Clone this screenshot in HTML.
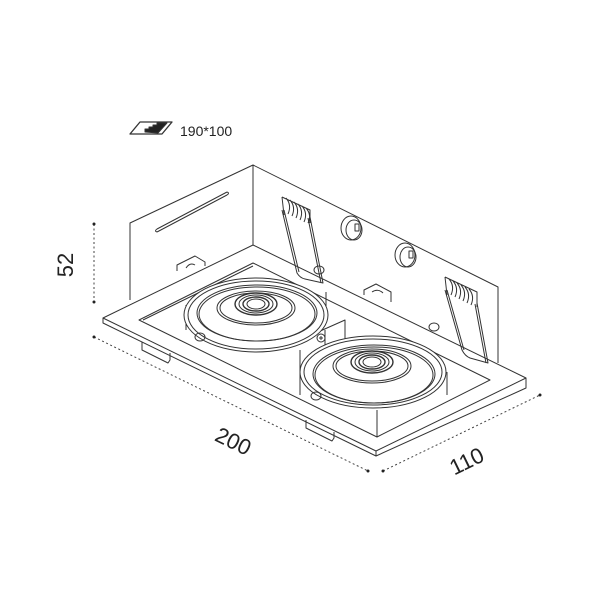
<!DOCTYPE html>
<html><head><meta charset="utf-8"><style>
html,body{margin:0;padding:0;background:#fff}
svg{display:block}
text{font-family:"Liberation Sans",sans-serif;fill:#222}
</style></head><body>
<svg width="600" height="600" viewBox="0 0 600 600" xmlns="http://www.w3.org/2000/svg">
<g fill="none" stroke="#333" stroke-width="1" stroke-linejoin="round">
<!-- icon -->
<path d="M130,134 L140,122 L172,122 L162,134 Z" stroke-width="1.3"/>
<path d="M145,132 L145,129 L149,129 L149,127 L153,127 L153,125 L157,125 L157,123 L167,123 L158,133 Z" fill="#222"/>
<!-- box -->
<path d="M130,300 L130,223 L253,165 L498,287 L498,363"/>
<path d="M253,165 L253,245"/>
<path d="M157,232 L227,195 M157,229 L227,192 M157,229 Q154,231 157,232 M227,192 Q230,193 227,195"/>
<!-- flange -->
<path d="M103,318 L253,245 L526,378 L526,388 L376,456 L103,323 Z" fill="#fff"/>
<path d="M103,318 L376,451 L526,378"/>
<path d="M376,451 L376,456"/>
<!-- inner opening -->
<path d="M139,320 L253,263 L490,380 L377,437 Z"/>
<path d="M143,320 L253,266 M377,437 L377,410"/>
<!-- tabs -->
<path d="M177,271 L177,265 L195,256 L205,262 L205,266"/>
<path d="M186,268 Q190,262 195,265"/>
<path d="M364,295 L364,290 L376,284 L391,292 L391,302"/>
<path d="M372,292 Q378,288 383,293"/>
<path d="M142,342 L142,350 L168,363 L170,360 L170,353"/>
<path d="M306,420 L306,428 L332,441 L334,438 L334,432"/>
<!-- screws -->
<ellipse cx="434" cy="327" rx="5" ry="4"/>
<ellipse cx="319" cy="270" rx="5" ry="4"/>
<!-- knockouts -->
<ellipse cx="351" cy="228" rx="10" ry="12"/>
<ellipse cx="354" cy="230" rx="8" ry="10"/>
<rect x="355" y="224" width="4" height="7"/>
<ellipse cx="405" cy="255" rx="10" ry="12"/>
<ellipse cx="408" cy="257" rx="8" ry="10"/>
<rect x="409" y="251" width="4" height="7"/>
<!-- springs -->
<g>
<path d="M282,210 L297,273 Q300,278 305,279 L323,283 L310,217"/>
<path d="M284,210 L299,272 M321,283 L308,218"/>
<path d="M282,197 L284,215 M286,198 Q292,205 288,214 M290,200 Q296,207 292,216 M294,202 Q300,209 296,218 M298,204 Q304,211 300,220 M302,206 Q308,213 304,222 M306,208 Q312,215 308,223 M282,197 L310,210 L310,223"/>
<path d="M445,290 L462,350 Q465,356 470,358 L488,363 L477,303"/>
<path d="M447,290 L464,350 M486,363 L475,304"/>
<path d="M445,277 L447,295 M449,279 Q455,286 451,295 M453,281 Q459,288 455,297 M457,283 Q463,290 459,299 M461,285 Q467,292 463,301 M465,287 Q471,294 467,303 M469,289 Q475,296 471,305 M445,277 L477,292 L477,307"/>
</g>
<!-- lamp housing between -->
<path d="M318,332 L345,320 L345,345 M325,330 L325,345"/>
<path d="M300,350 L300,395 M447,372 L447,395"/>
<path d="M186,305 L186,330 M326,292 L326,318"/>
<!-- lamp 1 -->
<ellipse cx="256" cy="315" rx="72" ry="37" fill="#fff"/>
<ellipse cx="256" cy="315" rx="68" ry="34"/>
<ellipse cx="257" cy="313" rx="60" ry="28"/>
<ellipse cx="257" cy="314" rx="58" ry="27"/>
<ellipse cx="256" cy="308" rx="39" ry="17"/>
<ellipse cx="256" cy="308" rx="36" ry="15"/>
<ellipse cx="256" cy="304" rx="21" ry="11" stroke-width="1.4"/>
<ellipse cx="256" cy="304" rx="17" ry="9"/>
<ellipse cx="256" cy="304" rx="13" ry="7" stroke-width="1.4"/>
<ellipse cx="256" cy="304" rx="9" ry="5"/>
<ellipse cx="200" cy="337" rx="5" ry="4"/>
<!-- lamp 2 -->
<ellipse cx="373" cy="372" rx="73" ry="36" fill="#fff"/>
<ellipse cx="373" cy="372" rx="69" ry="33"/>
<ellipse cx="374" cy="374" rx="61" ry="29"/>
<ellipse cx="374" cy="375" rx="59" ry="28"/>
<ellipse cx="372" cy="366" rx="39" ry="17"/>
<ellipse cx="372" cy="366" rx="36" ry="15"/>
<ellipse cx="372" cy="362" rx="21" ry="11" stroke-width="1.4"/>
<ellipse cx="372" cy="362" rx="17" ry="9"/>
<ellipse cx="372" cy="362" rx="13" ry="7" stroke-width="1.4"/>
<ellipse cx="372" cy="362" rx="9" ry="5"/>
<ellipse cx="316" cy="396" rx="5" ry="4"/>
<circle cx="321" cy="338" r="4"/>
<path d="M319,338 L323,338 M321,336 L321,340"/>
<!-- dimensions -->
<g stroke-dasharray="2,2.5" stroke="#444">
<path d="M94,224 L94,302"/>
<path d="M94,337 L368,471"/>
<path d="M383,471 L540,395"/>
</g>
</g>
<g fill="#222">
<circle cx="94" cy="224" r="1.5"/><circle cx="94" cy="302" r="1.5"/>
<circle cx="94" cy="337" r="1.5"/><circle cx="368" cy="471" r="1.5"/>
<circle cx="383" cy="471" r="1.5"/><circle cx="540" cy="395" r="1.5"/>
</g>
<text x="180" y="136" font-size="14">190*100</text>
<text x="0" y="0" font-size="22" text-anchor="middle" transform="translate(73,265) rotate(-90)">52</text>
<text x="0" y="0" font-size="22" text-anchor="middle" transform="translate(230,448) rotate(26)">200</text>
<text x="0" y="0" font-size="22" text-anchor="middle" transform="translate(470,468) rotate(-26)">110</text>
</svg>
</body></html>
